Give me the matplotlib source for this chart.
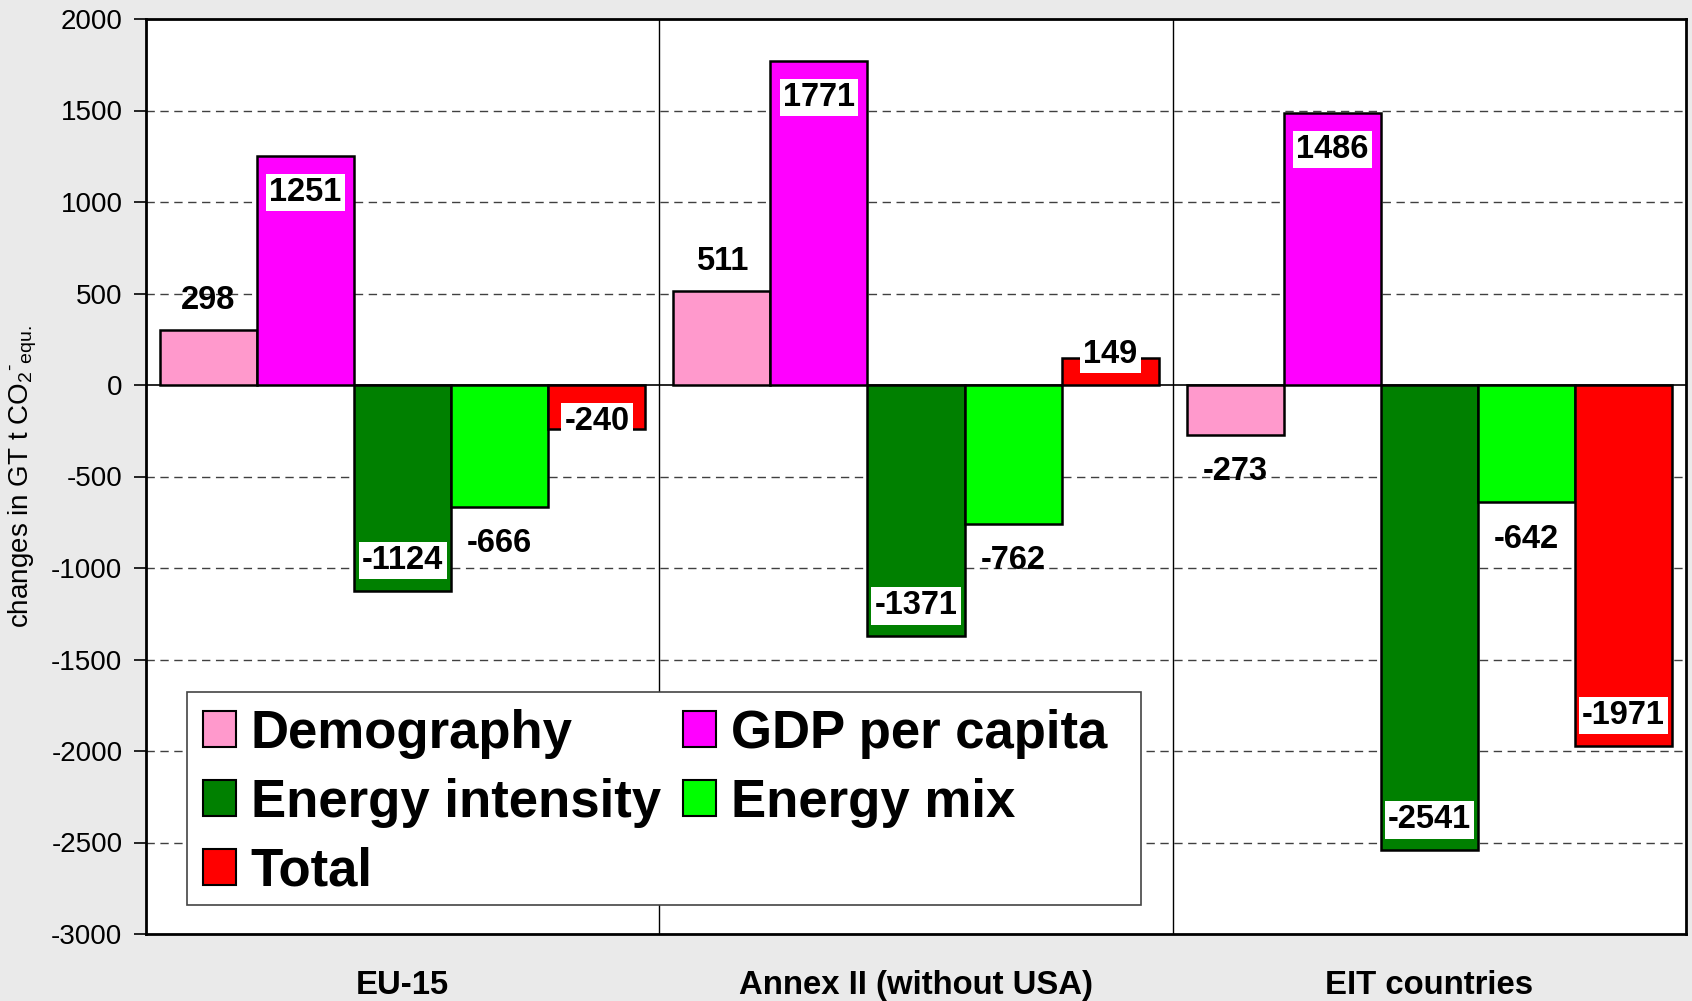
import matplotlib
matplotlib.use("Agg")
import matplotlib.pyplot as plt
from matplotlib.patches import Patch, Rectangle
import numpy as np

plt.rcParams['font.family'] = ['Liberation Sans', 'DejaVu Sans']
plt.rcParams['mathtext.fontset'] = 'custom'
plt.rcParams['mathtext.rm'] = 'Liberation Sans'

# Regions on the x axis
regions = ["EU-15", "Annex II (without USA)", "EIT countries"]

# Decomposition factors (series) and their values per region
factors = ["Demography", "GDP per capita", "Energy intensity", "Energy mix", "Total"]
demography = [298, 511, -273]
gdp_per_capita = [1251, 1771, 1486]
energy_intensity = [-1124, -1371, -2541]
energy_mix = [-666, -762, -642]
total = [-240, 149, -1971]

series = [demography, gdp_per_capita, energy_intensity, energy_mix, total]
colors = ["#FF99CC", "#FF00FF", "#008000", "#00FF00", "#FF0000"]

# Label style per bar (rows = factors, columns = regions):
# "in" = white box inside the bar end, "out" = plain text beyond the end,
# "edge" = white box straddling a short bar end
label_mode = [
    ["out", "out", "out"],
    ["in", "in", "in"],
    ["in", "in", "in"],
    ["out", "out", "out"],
    ["edge", "edge", "in"],
]

yticks = list(range(-3000, 2001, 500))

W, H = 1692, 1001
fig = plt.figure(figsize=(W / 100, H / 100), dpi=100)
fig.patch.set_facecolor("#EAEAEA")
ax = fig.add_axes([146 / W, 1 - 934 / H, 1540 / W, 915 / H])
ax.set_facecolor("white")

n = len(series)
group_span = 0.946
bw = group_span / n
x = np.arange(len(regions))

LABEL_FS = 23.5
half_digit = 0.716 * LABEL_FS / 2  # half the digit height, in points

for i, (vals, col) in enumerate(zip(series, colors)):
    pos = x - group_span / 2 + bw * (i + 0.5)
    ax.bar(pos, vals, width=bw, color=col, edgecolor="black", linewidth=1.8, zorder=3)
    for j, v in enumerate(vals):
        sgn = 1 if v >= 0 else -1
        mode = label_mode[i][j]
        box = dict(boxstyle="square,pad=0.1", fc="white", ec="none")
        if mode == "in":
            dy, bb = -24 * sgn, box
        elif mode == "out":
            dy, bb = 24 * sgn, None
        else:
            dy = 4.7 if v >= 0 else 7.8
            bb = box
        ax.annotate(f"{v}", xy=(pos[j], v), xytext=(0, dy - half_digit),
                    textcoords="offset points", ha="center", va="baseline",
                    fontsize=LABEL_FS, fontweight="bold", bbox=bb, zorder=5)

ax.set_xlim(-0.5, len(regions) - 0.5)
ax.set_ylim(-3000, 2000)
ax.set_yticks(yticks)
ax.set_yticklabels([str(t) for t in yticks], fontsize=20)
ax.tick_params(axis="y", length=9, width=1.2, pad=8)
ax.set_xticks(x)
ax.set_xticklabels(regions, fontsize=23.7, fontweight="bold")
ax.tick_params(axis="x", length=0, pad=26)

for yv in yticks:
    if yv not in (0, -3000, 2000):
        ax.axhline(yv, color="#404040", lw=1, ls=(0, (6, 4)), zorder=1)
ax.axhline(0, color="black", lw=1.2, zorder=2)
for xs in x[:-1] + 0.5:
    ax.axvline(xs, color="black", lw=1, zorder=2)

for sp in ax.spines.values():
    sp.set_linewidth(2)
    sp.set_color("black")

fig.text(23 / W, 1 - (934 + 19) / 2 / H,
         r"changes in GT t CO$_{2}$$^{\mathrm{\text{-}}}$$_{\mathrm{equ.}}$",
         rotation=90, fontsize=20, ha="center", va="center")

# Legend box and entries, laid out row by row in two columns
ax.add_patch(Rectangle((0.0266, 0.0317), 0.646 - 0.0266, 0.2645 - 0.0317,
                       transform=ax.transAxes, fc="white", ec="#444444", lw=1.2, zorder=6))
order = [0, 2, 4, 1, 3]
handles = [Patch(facecolor=colors[k], edgecolor="black", linewidth=1.5) for k in order]
labels = [factors[k] for k in order]
leg = ax.legend(handles, labels, ncol=2, loc="center left",
                bbox_to_anchor=(0.0369, 0.1434), borderaxespad=0, borderpad=0,
                prop=dict(size=38, weight="bold"), handlelength=0.63, handleheight=0.66,
                handletextpad=0.28, columnspacing=0.42, labelspacing=0.36,
                frameon=False)
leg.set_zorder(7)

fig.savefig("out.png", dpi=100, facecolor=fig.get_facecolor())
